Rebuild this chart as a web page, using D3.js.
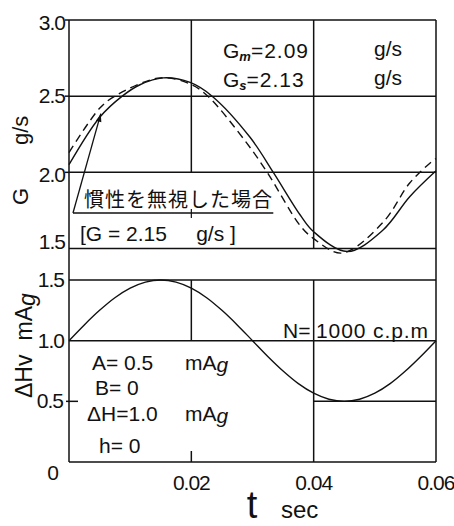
<!DOCTYPE html>
<html>
<head>
<meta charset="utf-8">
<script src="https://cdn.jsdelivr.net/npm/d3@7"></script>
<style>
  html, body { margin: 0; padding: 0; background: #fff; }
  svg { display: block; }
  text { font-family: "Liberation Sans", Arial, sans-serif; fill: #111; }
  .jp { font-family: "Noto Sans CJK JP", sans-serif; }
</style>
</head>
<body>
<div id="chart"></div>
<script>
// Flow rate G (g/s) over one revolution: solid = measured, dashed = computed
const tSolid  = [0, 0.0050, 0.0087, 0.0116, 0.0154, 0.0198, 0.0234, 0.0296, 0.0334, 0.0378, 0.0400, 0.0455, 0.0513, 0.0557, 0.0600];
const gSolid  = [2.05, 2.36, 2.50, 2.575, 2.62, 2.59, 2.50, 2.23, 2.00, 1.72, 1.61, 1.48, 1.62, 1.84, 2.01];
const tDashed = [0, 0.0050, 0.0075, 0.0149, 0.0198, 0.0227, 0.0291, 0.0324, 0.0378, 0.0400, 0.0446, 0.0513, 0.0557, 0.0590, 0.0600];
const gDashed = [2.13, 2.42, 2.50, 2.62, 2.58, 2.50, 2.19, 2.00, 1.65, 1.565, 1.47, 1.67, 1.93, 2.06, 2.09];

// Valve signal ΔHv (mA) over the same interval
const tHv  = [0, 0.0025, 0.005, 0.0075, 0.01, 0.0125, 0.015, 0.0175, 0.02, 0.0225, 0.025, 0.0275, 0.03,
              0.0325, 0.035, 0.0375, 0.04, 0.0425, 0.045, 0.0475, 0.05, 0.0525, 0.055, 0.0575, 0.06];
const dHv  = [1.0, 1.13, 1.25, 1.354, 1.433, 1.483, 1.5, 1.483, 1.433, 1.354, 1.25, 1.13, 1.0,
              0.87, 0.75, 0.646, 0.567, 0.517, 0.5, 0.517, 0.567, 0.646, 0.75, 0.87, 1.0];

// Tick labels
const gTicks  = [1.5, 2.0, 2.5, 3.0];
const hvTicks = [0, 0.5, 1.0, 1.5];
const tTicks  = [0.02, 0.04, 0.06];

const W = 454, H = 526;
const svg = d3.select("#chart").append("svg").attr("width", W).attr("height", H);

const x  = d3.scaleLinear().domain([0, 0.06]).range([69, 436]);
const yG = d3.scaleLinear().domain([1.5, 3.0]).range([248.5, 20]);
const yH = d3.scaleLinear().domain([0, 1.5]).range([462, 280]);

const ink = "#111";
const g = svg.append("g").attr("stroke", ink).attr("stroke-width", 1.5).attr("fill", "none");

// Frame
g.append("line").attr("x1", x(0)).attr("x2", x(0)).attr("y1", yG(3.0)).attr("y2", yH(0));
g.append("line").attr("x1", x(0.06)).attr("x2", x(0.06)).attr("y1", yG(3.0)).attr("y2", yH(0));
g.append("line").attr("x1", x(0)).attr("x2", x(0.06)).attr("y1", yG(3.0)).attr("y2", yG(3.0));
g.append("line").attr("x1", x(0)).attr("x2", x(0.06)).attr("y1", yH(0)).attr("y2", yH(0));

// Grid of the G panel
const gridGH = [[2.5, 0, 0.06], [2.0, 0, 0.06], [1.5, 0, 0.06]];
const gridGV = [[0.02, 3.0, 2.0], [0.04, 3.0, 1.5]];
gridGH.forEach(([v, a, b]) => g.append("line").attr("x1", x(a)).attr("x2", x(b)).attr("y1", yG(v)).attr("y2", yG(v)));
gridGV.forEach(([t, a, b]) => g.append("line").attr("x1", x(t)).attr("x2", x(t)).attr("y1", yG(a)).attr("y2", yG(b)));
// stub of the 0.02 line below the note
g.append("line").attr("x1", x(0.02)).attr("x2", x(0.02)).attr("y1", yG(1.76)).attr("y2", yG(1.70)).attr("stroke-width", 1.2);

// Grid of the ΔHv panel
const gridHH = [[1.5, 0, 0.06], [1.0, 0, 0.06], [0.5, 0.04, 0.06]];
const gridHV = [[0.02, 1.5, 1.0], [0.04, 1.5, 0]];
gridHH.forEach(([v, a, b]) => g.append("line").attr("x1", x(a)).attr("x2", x(b)).attr("y1", yH(v)).attr("y2", yH(v)));
gridHV.forEach(([t, a, b]) => g.append("line").attr("x1", x(t)).attr("x2", x(t)).attr("y1", yH(a)).attr("y2", yH(b)));
// short ticks
g.append("line").attr("x1", x(0) - 3).attr("x2", x(0) + 9).attr("y1", yH(0.5)).attr("y2", yH(0.5));
g.append("line").attr("x1", x(0.02)).attr("x2", x(0.02)).attr("y1", yH(0)).attr("y2", yH(0) - 11);
[3.0, 2.5, 2.0].forEach(v => g.append("line").attr("x1", x(0) - 4).attr("x2", x(0)).attr("y1", yG(v)).attr("y2", yG(v)));

// Curves
const lineG = (ts) => d3.line().x((d, i) => x(ts[i])).y(d => yG(d)).curve(d3.curveCatmullRom.alpha(0.5));
g.append("path").attr("d", lineG(tSolid)(gSolid)).attr("stroke-width", 1.4);
g.append("path").attr("d", lineG(tDashed)(gDashed)).attr("stroke-width", 1.4).attr("stroke-dasharray", "8,5");
const lineH = d3.line().x((d, i) => x(tHv[i])).y(d => yH(d)).curve(d3.curveCatmullRom.alpha(0.5));
g.append("path").attr("d", lineH(dHv)).attr("stroke-width", 1.4);

// Leader from the note to the curve
const noteT0 = 0.00065, noteY = 1.733, tipT = 0.0052, tipG = 2.385, noteT1 = 0.0334;
g.append("line").attr("x1", x(noteT0)).attr("x2", x(noteT1)).attr("y1", yG(noteY)).attr("y2", yG(noteY)).attr("stroke-width", 1.3);
g.append("line").attr("x1", x(noteT0)).attr("x2", x(tipT)).attr("y1", yG(noteY)).attr("y2", yG(tipG)).attr("stroke-width", 1.3);
{
  const x0 = x(noteT0), y0 = yG(noteY), x1 = x(tipT), y1 = yG(tipG);
  const ang = Math.atan2(y1 - y0, x1 - x0) * 180 / Math.PI;
  svg.append("path").attr("d", "M0,0 L-8,-2.8 L-8,2.8 Z").attr("fill", ink)
     .attr("transform", `translate(${x1},${y1}) rotate(${ang})`);
}

// Tick labels
const tickFont = 21;
const gOff = {3.0: 10, 2.5: 7, 2.0: 10, 1.5: 0};
gTicks.forEach(v => svg.append("text").attr("x", x(0) - 4).attr("y", yG(v) + gOff[v])
  .attr("text-anchor", "end").attr("font-size", tickFont).attr("letter-spacing", -1).text(v.toFixed(1)));
const hOff = {1.5: 7, 1.0: 7, 0.5: 7, 0: 18};
hvTicks.forEach(v => svg.append("text").attr("x", v === 0 ? 58 : (v === 0.5 ? x(0) - 6 : x(0) - 5)).attr("y", yH(v) + hOff[v])
  .attr("text-anchor", "end").attr("font-size", tickFont).attr("letter-spacing", -1).text(v === 0 ? "0" : v.toFixed(1)));
tTicks.forEach(t => svg.append("text").attr("x", x(t)).attr("y", yH(0) + 28)
  .attr("text-anchor", "middle").attr("font-size", tickFont).attr("letter-spacing", -1).text(t.toFixed(2)));

// Axis titles
svg.append("text").attr("x", 252).attr("y", 518).attr("text-anchor", "middle").attr("font-size", 38).text("t");
svg.append("text").attr("x", 281).attr("y", 518).attr("font-size", 24).text("sec");

svg.append("text").attr("transform", "translate(28,205) rotate(-90)").attr("font-size", 22).text("G");
svg.append("text").attr("transform", "translate(28,145) rotate(-90)").attr("font-size", 22).text("g/s");

const hvT = svg.append("text").attr("transform", "translate(32,398) rotate(-90)").attr("font-size", 23);
hvT.append("tspan").text("ΔHv");
hvT.append("tspan").attr("dx", 14).text("mA");
hvT.append("tspan").attr("font-style", "italic").attr("dy", 3).text("g");

// Notes in the G panel
const fs = 20;
function sub(xp, yp, main, s, rest) {
  const t = svg.append("text").attr("x", xp).attr("y", yp).attr("font-size", fs + 1);
  t.append("tspan").text(main);
  t.append("tspan").attr("font-size", 13).attr("font-weight", "bold").attr("font-style", "italic").attr("dy", 3).text(s);
  t.append("tspan").attr("dy", -3).attr("letter-spacing", 1).text(rest);
}
sub(223, 58, "G", "m", "=2.09");
sub(223, 87, "G", "s", "=2.13");
svg.append("text").attr("x", 388).attr("y", 56).attr("text-anchor", "middle").attr("font-size", fs + 1).text("g/s");
svg.append("text").attr("x", 388).attr("y", 85).attr("text-anchor", "middle").attr("font-size", fs + 1).text("g/s");

svg.append("text").attr("class", "jp").attr("x", 84).attr("y", 207).attr("font-size", 20)
  .attr("textLength", 188).attr("lengthAdjust", "spacing").text("慣性を無視した場合");
svg.append("text").attr("x", 80).attr("y", 241).attr("font-size", fs + 1).attr("xml:space", "preserve").text("[G = 2.15     g/s ]");

// Notes in the ΔHv panel
svg.append("text").attr("x", 283).attr("y", 338).attr("font-size", fs + 1).text("N=");
svg.append("text").attr("x", 316).attr("y", 338).attr("font-size", fs + 1)
  .attr("textLength", 112).attr("lengthAdjust", "spacing").text("1000 c.p.m");

function unit(yp) {
  const t = svg.append("text").attr("x", 185).attr("y", yp).attr("font-size", fs + 1);
  t.append("tspan").text("mA");
  t.append("tspan").attr("font-style", "italic").attr("dy", 2).text("g");
}
svg.append("text").attr("x", 92).attr("y", 370).attr("font-size", fs + 1).text("A= 0.5");
unit(370);
svg.append("text").attr("x", 95).attr("y", 395).attr("font-size", fs + 1).text("B= 0");
svg.append("text").attr("x", 87).attr("y", 421).attr("font-size", fs + 1).text("ΔH=1.0");
unit(421);
svg.append("text").attr("x", 99).attr("y", 453).attr("font-size", fs + 1).text("h= 0");
</script>
</body>
</html>
